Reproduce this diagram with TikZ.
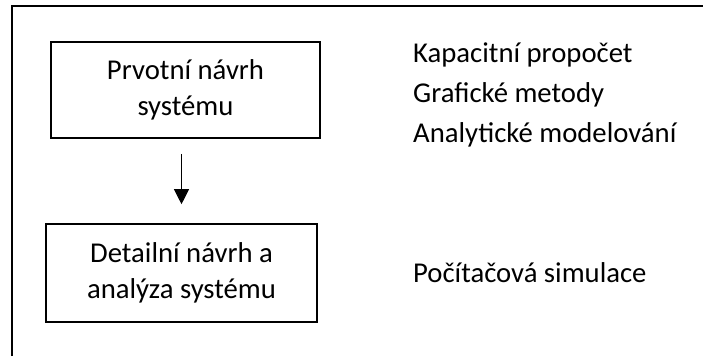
\documentclass[tikz,border=0pt]{standalone}
\usepackage{fontspec}
\setmainfont{Carlito}
\usetikzlibrary{arrows.meta}

\tikzset{
  krok/.style={draw, line width=1.6pt, minimum width=269pt, minimum height=96pt, align=center, inner sep=0pt, font=\fontsize{28.7}{36}\selectfont},
  metoda/.style={anchor=base west, inner sep=0pt, font=\fontsize{28.7}{40}\selectfont}
}

\begin{document}
\begin{tikzpicture}[x=1pt,y=-1pt,>={Triangle[length=15pt,width=15pt]}]

\useasboundingbox (0,0) rectangle (703,356);

% Rahmen oben und links
\draw[line width=1.8pt] (12,356) -- (12,6) -- (703,6);

% Boxen links
\node[krok] (prvotni) at (185.5,90) {Prvotní návrh\\systému};
\node[krok, minimum width=271pt, minimum height=98pt] (detail) at (181.5,273) {Detailní návrh a\\analýza systému};

% Pfeil dazwischen
\draw[->, line width=1pt, shorten <=15pt, shorten >=19pt] (prvotni.south -| detail.north) -- (detail.north);

% Methoden rechts
\node[metoda] (kapacitni) at (413,62) {Kapacitní propočet};
\node[metoda] (graficke) at (413,102) {Grafické metody};
\node[metoda] (analyticke) at (413,142) {Analytické modelování};
\node[metoda] (simulace) at (413,282) {Počítačová simulace};

\end{tikzpicture}
\end{document}
